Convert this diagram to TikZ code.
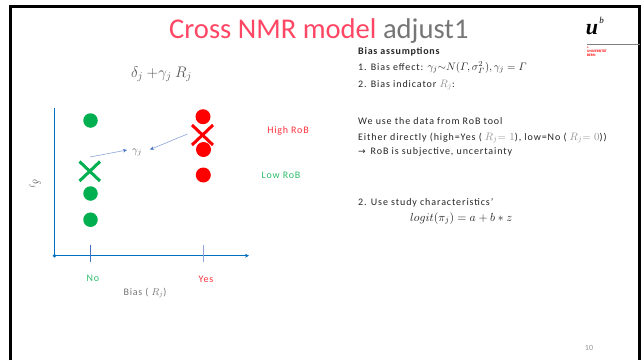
\RequirePackage{fix-cm}
\documentclass[tikz,border=0pt]{standalone}
\usepackage{amsmath}
\usepackage{fontspec}
\setmainfont{Carlito}
\newfontfamily\logofont{Liberation Serif}
\newfontfamily\arrowfont{DejaVu Sans}
\usetikzlibrary{arrows.meta}
\definecolor{titlered}{RGB}{255,70,100}
\definecolor{txtgray}{RGB}{118,118,118}
\definecolor{formgray}{RGB}{90,90,90}
\definecolor{axisblue}{RGB}{0,112,192}
\definecolor{tickblue}{RGB}{68,114,196}
\definecolor{arrowblue}{RGB}{140,165,220}
\definecolor{dotgreen}{RGB}{0,176,80}
\definecolor{labgreen}{RGB}{45,190,110}
\definecolor{dotred}{RGB}{255,0,0}
\definecolor{labred}{RGB}{255,50,60}
\definecolor{bodytxt}{RGB}{38,38,38}
\definecolor{mathgray}{RGB}{150,150,150}
\newcommand\mymath[1]{{\fontsize{10.8}{12}\selectfont$#1$}}
\tikzset{
  gdot/.style={circle,fill=dotgreen,inner sep=0pt,minimum size=14.5pt},
  rdot/.style={circle,fill=dotred,inner sep=0pt,minimum size=15pt},
  body/.style={anchor=base west,inner sep=0pt,text=bodytxt,font=\fontsize{10}{12}\selectfont\addfontfeatures{LetterSpace=9}},
  lab/.style={inner sep=0pt,font=\fontsize{10}{12}\selectfont\addfontfeatures{LetterSpace=8}},
  axisline/.style={axisblue,line width=1.1pt},
  tick/.style={tickblue,line width=0.7pt},
  estim/.style={arrowblue,line width=0.6pt,-{Stealth[length=4pt,width=3.5pt,color=tickblue]}},
  crossline/.style={line width=3pt}
}
\begin{document}
\begin{tikzpicture}[x=1pt,y=-1pt]
\useasboundingbox (0,0) rectangle (644,360);
\fill[white] (0,0) rectangle (644,360);
% frame
\draw[black,line width=2.6pt] (10.6,360) -- (10.6,6.6) -- (639.5,6.6) -- (639.5,360);
% title
\node[anchor=base west,inner sep=0pt,font=\fontsize{28.6}{30}\selectfont] (title) at (169,38)
  {\textcolor{titlered}{Cross NMR model} \textcolor{txtgray}{adjust1}};
% formula
\node[inner sep=0pt,text=formgray,font=\fontsize{15.3}{17}\selectfont] (formula) at (161.5,74.5) {$\delta_j\ {+}\gamma_j\ R_j$};
% axes
\coordinate (origin) at (54.5,255.7);
\coordinate (ytop) at (54.5,108);
\coordinate (xend) at (249,255.7);
\draw[axisline] (ytop) -- (origin);
\draw[axisline,-{Stealth[length=4pt,width=4pt]}] (origin) -- (xend);
\fill[axisblue] (origin) circle (1.8pt);
% ticks
\coordinate (noT) at (90.3,244.5); \coordinate (noB) at (90.3,262);
\coordinate (yesT) at (203,244.5); \coordinate (yesB) at (203,262);
\draw[tick] (noT) -- (noB);
\draw[arrowblue,line width=1pt] (yesT) -- (yesB);
% dots
\node[gdot] (g1) at (90.5,120.5) {};
\node[gdot] (g2) at (90.5,193.5) {};
\node[gdot] (g3) at (90.5,219.7) {};
\node[rdot] (r1) at (203,116.7) {};
\node[rdot] (r2) at (203.5,149.5) {};
\node[rdot] (r3) at (203.3,175) {};
% crosses
\draw[dotgreen,crossline] (79.5,161.5) -- (100,181);
\draw[dotgreen,crossline] (100,161.5) -- (79.5,181);
\draw[dotred,crossline] (192,125) -- (213,145);
\draw[dotred,crossline] (213,125) -- (192,145);
% gamma label and arrows
\node[inner sep=0pt,text=formgray,font=\fontsize{10.5}{12}\selectfont] (gam) at (137,152.5) {$\gamma_j$};
\coordinate (gs) at (90,157);
\coordinate (ge) at (127,150);
\coordinate (rs) at (187.5,134);
\coordinate (re) at (150,149.5);
\draw[estim] (gs) -- (ge);
\draw[estim] (rs) -- (re);
% side labels
\node[lab,text=labred] (high) at (288,130.5) {High RoB};
\node[lab,text=labgreen] (low) at (281,175.7) {Low RoB};
\node[lab,text=labgreen] (no) at (93,278) {No};
\node[lab,text=labred] (yes) at (206,279) {Yes};
\node[lab,text=txtgray] (bias) at (145,293) {Bias ( $R_j$)};
\node[inner sep=0pt,text=formgray,rotate=-90,font=\fontsize{11}{12}\selectfont] (dl) at (35,184) {$\delta_j$};
% right text
\node[body,font=\fontsize{10}{12}\bfseries\selectfont\addfontfeatures{LetterSpace=7.5}] (t1) at (358,54) {Bias assumptions};
\node[body] (t2) at (358,70) {1. Bias effect: \mymath{\gamma_j{\sim}N(\varGamma,\sigma_\varGamma^2),\gamma_j=\varGamma}};
\node[body] (t3) at (358,87) {2. Bias indicator \textcolor{mathgray}{\mymath{R_j}}:};
\node[body] (t4) at (358,124) {We use the data from RoB tool};
\node[body] (t5) at (358,140) {Either directly (high=Yes ( \textcolor{mathgray}{\mymath{R_j{=}\ 1}}), low=No ( \textcolor{mathgray}{\mymath{R_j{=}\ 0}}))};
\node[body] (t6) at (358,154) {{\arrowfont\fontsize{9}{10}\selectfont →}\hspace{5pt}RoB is subjective, uncertainty};
\node[body] (t7) at (358,205) {2. Use study characteristics’};
\node[body,font=\fontsize{11.7}{13}\selectfont] (t8) at (410,221) {$logit(\pi_j)=a+b*z$};
% page number
\node[inner sep=0pt,text=mathgray,font=\fontsize{8}{9}\selectfont] (pg) at (589,348) {10};
% logo
\node[inner sep=0pt,text=black,font=\logofont\fontsize{22}{24}\bfseries\itshape\selectfont,anchor=base] (logo) at (592,34) {u};
\node[inner sep=0pt,text=black,font=\logofont\fontsize{9}{10}\itshape\selectfont] (logob) at (601.5,20.5) {b};
\coordinate (ll) at (587,44.3);
\coordinate (lr) at (640,44.3);
\draw[gray,line width=0.5pt] (ll) -- (lr);
\node[inner sep=0pt,text=red,anchor=west,font=\fontsize{2.5}{3}\bfseries\selectfont] (unib) at (587,48) {b};
\node[inner sep=0pt,align=left,text=red,anchor=west,font=\fontsize{3.6}{3.6}\bfseries\selectfont] (uni) at (587,53.2) {UNIVERSITÄT\\BERN};
\end{tikzpicture}
\end{document}
